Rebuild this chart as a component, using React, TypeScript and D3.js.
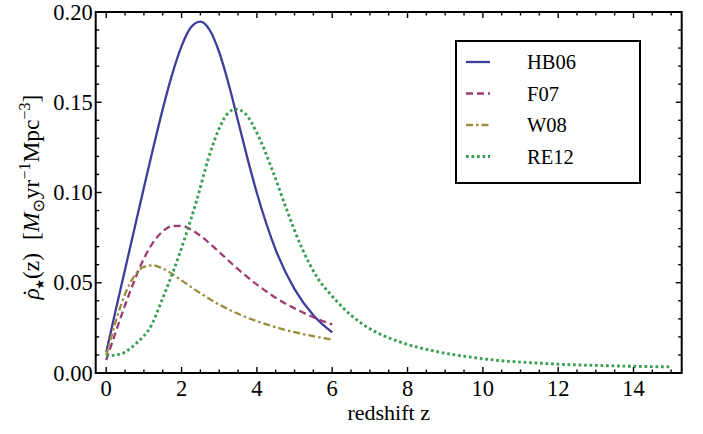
import React from "react";
import * as d3 from "d3";

// redshift grid for the three z<=6 fits
const zShort = [0, 0.25, 0.5, 0.75, 1, 1.25, 1.5, 1.75, 2, 2.25, 2.5, 2.75, 3, 3.25, 3.5, 3.75, 4, 4.5, 5, 5.5, 6];
const hb06 = [0.0115, 0.0347, 0.0574, 0.0801, 0.1027, 0.1249, 0.1462, 0.1654, 0.1811, 0.1915, 0.1947, 0.1899, 0.1777, 0.1601, 0.1396, 0.1189, 0.0997, 0.0682, 0.0465, 0.0320, 0.0225];
const zF07 = [0, 0.25, 0.5, 0.75, 1, 1.25, 1.5, 1.75, 2, 2.25, 2.5, 3, 3.5, 4, 4.5, 5, 5.5, 6];
const f07 = [0.0072, 0.0226, 0.0376, 0.0514, 0.0634, 0.0725, 0.0785, 0.0814, 0.0815, 0.0795, 0.0760, 0.0670, 0.0575, 0.0490, 0.0417, 0.0358, 0.0309, 0.0269];
const zW08 = [0, 0.25, 0.5, 0.75, 1, 1.25, 1.5, 1.75, 2, 2.5, 3, 3.5, 4, 4.5, 5, 5.5, 6];
const w08 = [0.0098, 0.0284, 0.0438, 0.0539, 0.0588, 0.0596, 0.0579, 0.0549, 0.0513, 0.0442, 0.0379, 0.0328, 0.0287, 0.0254, 0.0226, 0.0204, 0.0185];
const zRE12 = [0, 0.4, 0.8, 1.2, 1.5, 1.8, 2.1, 2.4, 2.7, 3.0, 3.2, 3.45, 3.7, 4.0, 4.4, 4.8, 5.2, 5.6, 6.0, 6.5, 7.0, 7.8, 8.7, 9.6, 10.5, 11.3, 12.2, 13.0, 14.0, 15.0];
const re12 = [0.0095, 0.0107, 0.0165, 0.0265, 0.0415, 0.0575, 0.0755, 0.0955, 0.1180, 0.1355, 0.1432, 0.1462, 0.1435, 0.1330, 0.1130, 0.0900, 0.0690, 0.0530, 0.0425, 0.0320, 0.0245, 0.0172, 0.0122, 0.0090, 0.0068, 0.0057, 0.0047, 0.0042, 0.0037, 0.0034];

const seriesNames = ["HB06", "F07", "W08", "RE12"];
const xTicks = [0, 2, 4, 6, 8, 10, 12, 14];
const yTicks = [0, 0.05, 0.1, 0.15, 0.2];

const W = 703, H = 434;
const L = 95.7, R = 681.7, T = 12, B = 373;
const FONT = "'Liberation Serif', 'Times New Roman', serif";

export default function App() {
  const x = d3.scaleLinear().domain([-0.28, 15.28]).range([L, R]);
  const y = d3.scaleLinear().domain([0, 0.2]).range([B, T]);
  const line = d3.line<[number, number]>().x(d => x(d[0])).y(d => y(d[1])).curve(d3.curveMonotoneX);

  const styles = [
    { color: "#3d3d9c", dash: "none", width: 2.3 },
    { color: "#9c3d72", dash: "7,4", width: 2.3 },
    { color: "#9c8c3d", dash: "7,3,2.5,3", width: 2.3 },
    { color: "#3a9e52", dash: "2.7,2.8", width: 2.9 },
  ];
  const data: [number[], number[]][] = [[zShort, hb06], [zF07, f07], [zW08, w08], [zRE12, re12]];

  const xMinor = d3.range(0, 15.01, 0.5);
  const yMinor = d3.range(0, 0.2001, 0.01);
  const isMajX = (v: number) => Math.abs(v / 2 - Math.round(v / 2)) < 1e-6;
  const isMajY = (v: number) => Math.abs(v / 0.05 - Math.round(v / 0.05)) < 1e-6;

  return (
    <svg width={W} height={H} style={{ position: "absolute", left: 0, top: 0 }} fontFamily={FONT}>
      <rect width={W} height={H} fill="white" />
      <defs>
        <clipPath id="plot"><rect x={L} y={T} width={R - L} height={B - T} /></clipPath>
      </defs>
      <g clipPath="url(#plot)">
        {data.map((d, i) => (
          <path key={i} d={line(d[0].map((z, k) => [z, d[1][k]] as [number, number])) || ""}
            fill="none" stroke={styles[i].color} strokeWidth={styles[i].width}
            strokeDasharray={styles[i].dash} strokeLinejoin="round" />
        ))}
      </g>
      {/* ticks */}
      {xMinor.map((v, i) => {
        const len = isMajX(v) ? 6 : 3.5;
        return (
          <g key={"xt" + i} stroke="black" strokeWidth={1.4}>
            <line x1={x(v)} x2={x(v)} y1={B} y2={B - len} />
            <line x1={x(v)} x2={x(v)} y1={T} y2={T + len} />
          </g>
        );
      })}
      {yMinor.map((v, i) => {
        const len = isMajY(v) ? 6 : 3.5;
        return (
          <g key={"yt" + i} stroke="black" strokeWidth={1.4}>
            <line x1={L} x2={L + len} y1={y(v)} y2={y(v)} />
            <line x1={R} x2={R - len} y1={y(v)} y2={y(v)} />
          </g>
        );
      })}
      <rect x={L} y={T} width={R - L} height={B - T} fill="none" stroke="black" strokeWidth={2} />
      {xTicks.map(v => (
        <text key={"xl" + v} x={x(v)} y={B + 23} fontSize={22.5} textAnchor="middle">{v}</text>
      ))}
      {yTicks.map(v => (
        <text key={"yl" + v} x={L - 3} y={y(v) + 7.5} fontSize={22.5} textAnchor="end">{v.toFixed(2)}</text>
      ))}
      <text x={(L + R) / 2} y={420} fontSize={22} textAnchor="middle">redshift z</text>
      <text transform={`translate(39, 197) rotate(-90)`} fontSize={23.5} textAnchor="middle">
        <tspan fontStyle="italic">ρ</tspan>
        <tspan dx={-8.5}>˙</tspan>
        <tspan fontSize={12} dy={5} dx={-1} fontFamily="'DejaVu Sans'">★</tspan>
        <tspan dy={-5}>(z)</tspan>
        <tspan dx={13}>[</tspan>
        <tspan fontStyle="italic">M</tspan>
        <tspan fontSize={16} dy={5} fontFamily="'DejaVu Sans'">⊙</tspan>
        <tspan dy={-5}>yr</tspan>
        <tspan fontSize={16} dy={-9}>−1</tspan>
        <tspan dy={9}>Mpc</tspan>
        <tspan fontSize={16} dy={-9}>−3</tspan>
        <tspan dy={9}>]</tspan>
      </text>
      {/* legend */}
      <rect x={456} y={41} width={184} height={142} fill="white" stroke="black" strokeWidth={2} />
      {seriesNames.map((n, i) => {
        const cy = 62 + i * 31.5;
        return (
          <g key={n}>
            <line x1={466} x2={490} y1={cy} y2={cy} stroke={styles[i].color} strokeWidth={styles[i].width}
              strokeDasharray={styles[i].dash} />
            <text x={527} y={cy + 7} fontSize={20.5}>{n}</text>
          </g>
        );
      })}
    </svg>
  );
}
